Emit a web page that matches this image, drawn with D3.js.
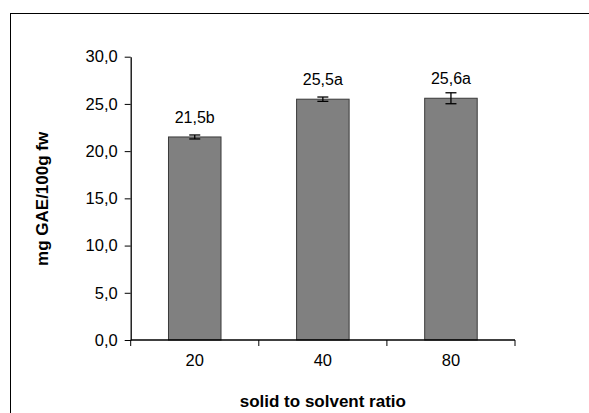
<!DOCTYPE html>
<html>
<head>
<meta charset="utf-8">
<script src="https://d3js.org/d3.v7.min.js"></script>
<style>
  body { margin: 0; background: #fff; }
  text { font-family: "Liberation Sans", Arial, sans-serif; fill: #000; }
</style>
</head>
<body>
<div id="chart"></div>
<script>
const categories = ["20", "40", "80"];
const values = [21.5, 25.5, 25.6];
const errors = [0.21, 0.23, 0.58];
const labels = ["21,5b", "25,5a", "25,6a"];
const yTicks = [0, 5, 10, 15, 20, 25, 30];

const width = 589, height = 413;
const margin = { top: 56.7, right: 74, bottom: 73, left: 130.7 };

const svg = d3.select("#chart").append("svg")
    .attr("width", width)
    .attr("height", height);

// outer frame (runs off right and bottom edges)
svg.append("rect")
    .attr("x", 10.5).attr("y", 13.5)
    .attr("width", 600).attr("height", 420)
    .attr("fill", "none")
    .attr("stroke", "#000")
    .attr("stroke-width", 1);

const x = d3.scaleBand()
    .domain(categories)
    .range([margin.left, width - margin.right])
    .paddingInner(0.59)
    .paddingOuter(0.295);

const y = d3.scaleLinear()
    .domain([0, 30])
    .range([height - margin.bottom, margin.top]);

const fmt = d => d.toFixed(1).replace(".", ",");

// bars
svg.selectAll(".bar")
    .data(values)
    .join("rect")
    .attr("class", "bar")
    .attr("x", (d, i) => x(categories[i]))
    .attr("y", d => y(d))
    .attr("width", x.bandwidth())
    .attr("height", d => y(0) - y(d))
    .attr("fill", "#808080")
    .attr("stroke", "#3a3a3a")
    .attr("stroke-width", 1);

// error bars
const cx = i => x(categories[i]) + x.bandwidth() / 2;
const err = svg.append("g").attr("stroke", "#000").attr("stroke-width", 1.3);
values.forEach((v, i) => {
    const e = errors[i];
    err.append("line").attr("x1", cx(i)).attr("x2", cx(i)).attr("y1", y(v - e)).attr("y2", y(v + e));
    [v - e, v + e].forEach(t => {
        err.append("line").attr("x1", cx(i) - 5.5).attr("x2", cx(i) + 5.5).attr("y1", y(t)).attr("y2", y(t));
    });
});

// value labels
svg.selectAll(".lbl")
    .data(values)
    .join("text")
    .attr("class", "lbl")
    .attr("x", (d, i) => cx(i))
    .attr("y", d => y(d) - 14)
    .attr("text-anchor", "middle")
    .attr("font-size", 16)
    .text((d, i) => labels[i]);

// y axis
const yAxis = svg.append("g")
    .attr("transform", `translate(${margin.left},0)`)
    .call(d3.axisLeft(y).tickValues(yTicks).tickFormat(fmt).tickSize(6).tickPadding(7).tickSizeOuter(0));
yAxis.selectAll("text").attr("font-size", 16.5).style("font-family", '"Liberation Sans", Arial, sans-serif');
yAxis.select(".domain").attr("stroke-width", 1.3);

// x axis with ticks at band boundaries
const xBase = y(0);
const xAxis = svg.append("g");
xAxis.append("line")
    .attr("x1", margin.left).attr("x2", width - margin.right)
    .attr("y1", xBase).attr("y2", xBase)
    .attr("stroke", "#000").attr("stroke-width", 1.3);
const bounds = d3.range(categories.length + 1).map(i => margin.left + i * (width - margin.left - margin.right) / categories.length);
xAxis.selectAll(".xt")
    .data(bounds)
    .join("line")
    .attr("x1", d => d).attr("x2", d => d)
    .attr("y1", xBase).attr("y2", xBase + 6)
    .attr("stroke", "#000");
xAxis.selectAll(".xl")
    .data(categories)
    .join("text")
    .attr("x", (d, i) => cx(i))
    .attr("y", xBase + 25.5)
    .attr("text-anchor", "middle")
    .attr("font-size", 16.5)
    .text(d => d);

// axis titles
svg.append("text")
    .attr("x", (margin.left + width - margin.right) / 2)
    .attr("y", 406.5)
    .attr("text-anchor", "middle")
    .attr("font-size", 17)
    .attr("font-weight", "bold")
    .text("solid to solvent ratio");

svg.append("text")
    .attr("transform", `translate(47.5,${(y(0) + y(30)) / 2 + 0.5}) rotate(-90)`)
    .attr("text-anchor", "middle")
    .attr("font-size", 17)
    .attr("font-weight", "bold")
    .text("mg GAE/100g fw");
</script>
</body>
</html>
